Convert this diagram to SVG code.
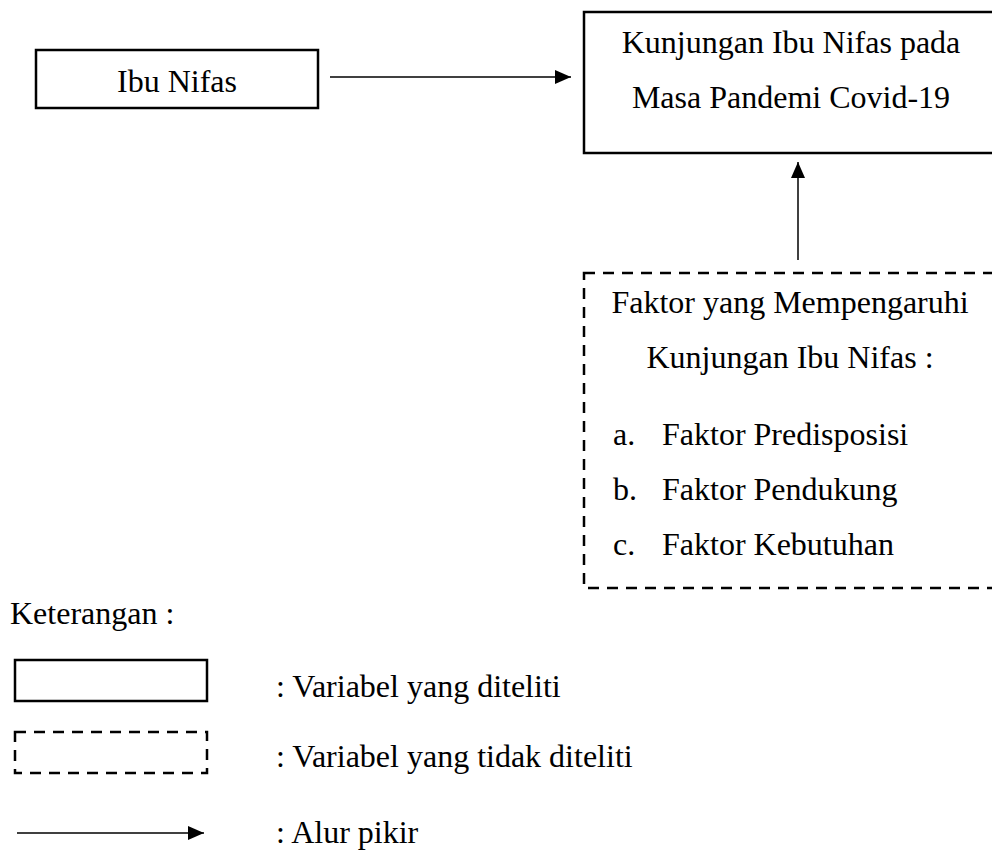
<svg xmlns="http://www.w3.org/2000/svg" width="992" height="850" viewBox="0 0 992 850">
<style>
text{font-family:"Liberation Serif","Times New Roman",serif;font-size:32px;fill:#000}
.solid{fill:#fff;stroke:#000;stroke-width:2.5}
.dash{fill:none;stroke:#000;stroke-width:2.5;stroke-dasharray:11 8}
.conn{stroke:#000;stroke-width:1.5;fill:none}
</style>
<defs>
<marker id="ah" markerWidth="16" markerHeight="14" refX="16" refY="7" orient="auto" markerUnits="userSpaceOnUse">
<path d="M0,0 L16,7 L0,14 Z" fill="#000"/>
</marker>
</defs>
<rect width="992" height="850" fill="#fff"/>
<g id="connectors">
<line class="conn" x1="330" y1="77" x2="571" y2="77" marker-end="url(#ah)"/>
<line class="conn" x1="798" y1="260" x2="798" y2="162" marker-end="url(#ah)"/>
</g>
<g id="ibu-nifas">
<rect class="solid" x="36" y="50" width="282" height="58"/>
<text x="177" y="92" text-anchor="middle">Ibu Nifas</text>
</g>
<g id="kunjungan">
<rect class="solid" x="584" y="12" width="420" height="141"/>
<text x="791" y="53" text-anchor="middle">Kunjungan Ibu Nifas pada</text>
<text x="791" y="108" text-anchor="middle">Masa Pandemi Covid-19</text>
</g>
<g id="faktor">
<rect class="dash" x="584" y="273" width="420" height="315"/>
<text x="790" y="313" text-anchor="middle">Faktor yang Mempengaruhi</text>
<text x="790" y="368" text-anchor="middle">Kunjungan Ibu Nifas :</text>
<text x="613" y="445">a.</text><text x="662" y="445">Faktor Predisposisi</text>
<text x="613" y="500">b.</text><text x="662" y="500">Faktor Pendukung</text>
<text x="613" y="555">c.</text><text x="662" y="555">Faktor Kebutuhan</text>
</g>
<g id="legend">
<text x="10" y="624">Keterangan :</text>
<rect class="solid" x="15" y="660" width="192" height="41"/>
<text x="276" y="697">: Variabel yang diteliti</text>
<rect class="dash" x="15" y="732" width="192" height="41"/>
<text x="276" y="767">: Variabel yang tidak diteliti</text>
<line class="conn" x1="17" y1="833" x2="204" y2="833" marker-end="url(#ah)"/>
<text x="276" y="843">: Alur pikir</text>
</g>
</svg>
